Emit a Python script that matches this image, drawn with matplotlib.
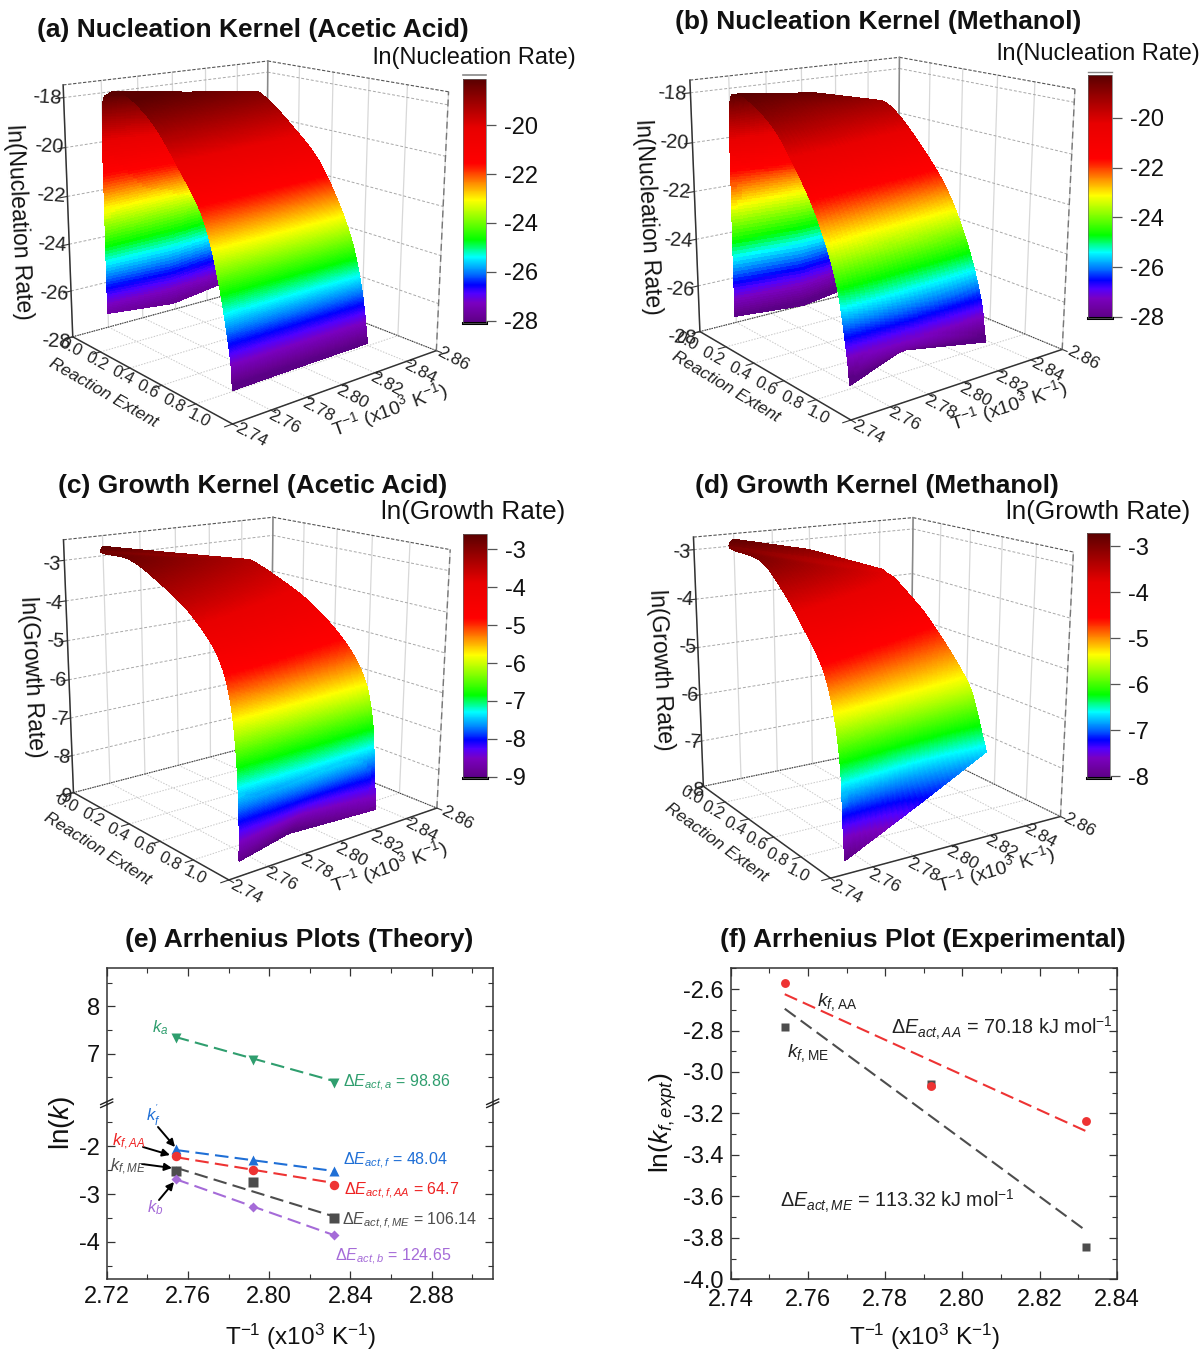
import numpy as np
import matplotlib
matplotlib.use('Agg')
import matplotlib.pyplot as plt
from matplotlib.cm import ScalarMappable
from matplotlib.colors import LinearSegmentedColormap, Normalize
from matplotlib.lines import Line2D
from matplotlib.ticker import FixedLocator
from mpl_toolkits.mplot3d.art3d import Poly3DCollection

plt.rcParams['font.family'] = ['Liberation Sans', 'DejaVu Sans']
plt.rcParams['mathtext.fontset'] = 'custom'
plt.rcParams['mathtext.rm'] = 'Liberation Sans'
plt.rcParams['mathtext.it'] = 'Liberation Sans:italic'
plt.rcParams['mathtext.bf'] = 'Liberation Sans:bold'

W, H = 1200, 1352

# inverse temperatures of the three runs
t_runs = [2.754, 2.792, 2.832]
# where the runs sit along the T axis of the 3D boxes
t_nucl = [2.764, 2.802, 2.844]
t_grow = [2.754, 2.792, 2.832]

# surface readings, one row per temperature
ext_a = [[-0.053, -0.053, -0.049, 0.000, 0.117, 0.290, 0.453, 0.586, 0.671, 0.738, 0.753],
         [-0.041, -0.062, -0.043, 0.030, 0.137, 0.308, 0.458, 0.581, 0.668, 0.732, 0.757],
         [-0.078, -0.070, -0.036, 0.060, 0.158, 0.326, 0.463, 0.576, 0.665, 0.726, 0.762]]
rate_a = [[-27.61, -23.18, -18.94, -18.08, -17.96, -18.81, -20.35, -21.88, -24.00, -26.79, -28.23],
          [-27.89, -23.03, -19.38, -18.39, -18.42, -19.36, -20.65, -22.15, -24.02, -26.41, -28.16],
          [-27.65, -22.89, -19.83, -18.70, -18.88, -19.91, -20.95, -22.43, -24.05, -26.03, -28.10]]
ext_b = [[-0.063, -0.062, -0.054, -0.001, 0.071, 0.253, 0.404, 0.537, 0.647, 0.705, 0.725],
         [-0.035, -0.081, -0.056, 0.057, 0.111, 0.288, 0.437, 0.566, 0.663, 0.706, 0.627],
         [-0.116, -0.101, -0.058, 0.027, 0.150, 0.323, 0.470, 0.594, 0.679, 0.707, 0.715]]
rate_b = [[-27.99, -22.69, -18.87, -18.31, -18.34, -19.18, -20.60, -22.26, -24.46, -26.93, -28.28],
          [-28.15, -22.90, -19.56, -18.50, -18.98, -20.05, -21.47, -23.30, -25.44, -27.36, -28.03],
          [-28.12, -23.11, -20.26, -19.27, -19.62, -20.92, -22.35, -24.33, -26.42, -27.79, -28.28]]
ext_c = [[0.086, 0.080, 0.265, 0.454, 0.632, 0.782, 0.854, 0.891, 0.906, 0.906],
         [0.091, 0.100, 0.212, 0.381, 0.571, 0.742, 0.834, 0.878, 0.896, 0.789],
         [0.096, 0.120, 0.159, 0.309, 0.510, 0.701, 0.815, 0.866, 0.886, 0.900]]
rate_c = [[-2.67, -2.82, -2.81, -3.17, -3.66, -4.38, -5.26, -6.56, -8.09, -8.99],
          [-3.04, -3.12, -3.11, -3.43, -3.90, -4.61, -5.43, -6.55, -7.88, -9.15],
          [-3.42, -3.41, -3.42, -3.68, -4.13, -4.84, -5.60, -6.53, -7.67, -8.85]]
ext_d = [[0.096, 0.078, 0.320, 0.485, 0.641, 0.765, 0.837, 0.876, 0.888, 0.900],
         [0.111, 0.115, 0.264, 0.409, 0.542, 0.678, 0.775, 0.819, 0.848, 0.900],
         [0.127, 0.152, 0.209, 0.332, 0.443, 0.591, 0.714, 0.761, 0.809, 0.835]]
rate_d = [[-2.78, -2.97, -3.02, -3.44, -4.03, -4.62, -5.39, -6.32, -7.25, -8.01],
          [-3.12, -3.35, -3.41, -3.76, -4.21, -4.77, -5.42, -6.08, -6.82, -7.24],
          [-3.69, -3.74, -3.80, -4.09, -4.39, -4.92, -5.45, -5.83, -6.38, -6.68]]

ext_ticks = [0.0, 0.2, 0.4, 0.6, 0.8, 1.0]
t_ticks = [2.74, 2.76, 2.78, 2.80, 2.82, 2.84, 2.86]

# panel e
ln_ka = [7.32, 6.86, 6.38]
ln_kf = [-2.06, -2.28, -2.51]
ln_kf_aa = [-2.21, -2.49, -2.82]
ln_kf_me = [-2.51, -2.75, -3.49]
ln_kb = [-2.69, -3.27, -3.86]
fit_ends = [2.754, 2.832]
fit_ka = [7.35, 6.42]
fit_kf = [-2.08, -2.52]
fit_kf_aa = [-2.23, -2.77]
fit_kf_me = [-2.45, -3.47]
fit_kb = [-2.69, -3.86]

# panel f
expt_aa = [-2.57, -3.07, -3.235]
expt_me = [-2.785, -3.06, -3.845]
fit_expt_aa = [-2.625, -3.285]
fit_expt_me = [-2.695, -3.765]

# rainbow used by all the colour bars
cmap_pos = [0.0, 0.025, 0.08, 0.12, 0.155, 0.20, 0.27, 0.34, 0.42, 0.504, 0.573, 0.634, 0.655, 0.80, 1.0]
cmap_col = ['#5a0085', '#680095', '#7a00c0', '#5000ff', '#0000ff', '#0070ff', '#00ffff', '#00ff00',
            '#7fff00', '#ffff00', '#ff8c00', '#ff2000', '#ff0000', '#e80000', '#5a0000']
rainbow = LinearSegmentedColormap.from_list('origin_rainbow', list(zip(cmap_pos, cmap_col)), N=512)

fig = plt.figure(figsize=(W / 100, H / 100), dpi=100)


def put(x, y, s, **kw):
    kw.setdefault('ha', 'center')
    kw.setdefault('va', 'center')
    return fig.text(x / W, 1 - y / H, s, **kw)


def px_axes(left, top, right, bottom, **kw):
    return fig.add_axes([left / W, 1 - bottom / H, (right - left) / W, (bottom - top) / H], **kw)


def fit_camera(ax, corners, zlim):
    # camera taken from six box corners as they sit on the page
    ax.apply_aspect()
    cube = [(0, 0, 0), (1, 0, 0), (1, 1, 0), (0, 0, 1), (0, 1, 1), (1, 1, 1)]
    rows = []
    for (u, v, w), (px, py) in zip(cube, corners):
        x, y = ax.transData.inverted().transform((px, H - py))
        rows.append([u, v, w, 1, 0, 0, 0, 0, -x * u, -x * v, -x * w, -x])
        rows.append([0, 0, 0, 0, u, v, w, 1, -y * u, -y * v, -y * w, -y])
    h = np.linalg.svd(np.array(rows))[2][-1].reshape(3, 4)
    if h[2] @ np.array([0.5, 0.5, 0.5, 1]) < 0:
        h = -h
    proj = np.array([h[0], h[1], [-1, 0, 0, 0], h[2]])
    dt = t_ticks[-1] - t_ticks[0]
    dz = zlim[1] - zlim[0]
    scale = np.array([[1, 0, 0, 0],
                      [0, 1 / dt, 0, -t_ticks[0] / dt],
                      [0, 0, 1 / dz, -zlim[0] / dz],
                      [0, 0, 0, 1]])
    M = proj @ scale
    ax.get_proj = lambda: M


def draw_box(ax, zlim, zticks):
    t0, t1 = t_ticks[0], t_ticks[-1]
    z0, z1 = zlim

    def seg(a, b, **kw):
        ax.plot([a[0], b[0]], [a[1], b[1]], [a[2], b[2]], clip_on=False, **kw)

    floor = dict(color='#c8c8c8', lw=0.7, ls=(0, (1.5, 1.5)), zorder=1)
    wall_h = dict(color='#a8a8a8', lw=0.7, ls=(0, (3, 2)), zorder=1)
    wall_v = dict(color='#d8d8d8', lw=0.9, zorder=1)
    for e in ext_ticks:
        seg((e, t0, z0), (e, t1, z0), **floor)
        seg((e, t1, z0), (e, t1, z1), **wall_v)
        seg((e, t0, z0), (e, t0 - 0.004, z0), color='#333333', lw=0.8, zorder=1)
    for t in t_ticks:
        seg((0, t, z0), (1, t, z0), **floor)
        seg((0, t, z0), (0, t, z1), **wall_v)
        seg((1, t, z0), (1.025, t, z0), color='#333333', lw=0.8, zorder=1)
    for z in zticks:
        seg((0, t0, z), (0, t1, z), **wall_h)
        seg((0, t1, z), (1, t1, z), **wall_h)
        seg((0, t0, z), (0, t0 - 0.004, z), color='#333333', lw=0.8, zorder=1)
    solid = dict(color='#333333', lw=1.1, zorder=1.5)
    top = dict(color='#555555', lw=0.8, ls=(0, (3, 1.5)), zorder=1.5)
    hidden = dict(color='#333333', lw=0.8, ls=(0, (1, 1.2)), zorder=1.5)
    seg((0, t0, z0), (0, t0, z1), **solid)
    seg((0, t0, z0), (1, t0, z0), **solid)
    seg((1, t0, z0), (1, t1, z0), **solid)
    seg((0, t0, z1), (0, t1, z1), **top)
    seg((0, t1, z1), (1, t1, z1), **top)
    seg((1, t1, z0), (1, t1, z1), color='#777777', lw=1.0, ls=(0, (5, 3)), zorder=1.5)
    seg((0, t1, z0), (0, t1, z1), color='#888888', lw=1.1, zorder=1.5)
    seg((0, t0, z0), (0, t1, z0), **hidden)
    seg((0, t1, z0), (1, t1, z0), **hidden)


def smooth_col(col, per_row=40):
    # Catmull-Rom through the readings of one run, drawing only
    p = np.concatenate([[col[0]], col, [col[-1]]])
    out = []
    for i in range(1, len(p) - 2):
        s = np.linspace(0, 1, per_row, endpoint=False)
        out.append(0.5 * (2 * p[i] + (p[i + 1] - p[i - 1]) * s
                          + (2 * p[i - 1] - 5 * p[i] + 4 * p[i + 1] - p[i + 2]) * s ** 2
                          + (3 * p[i] - p[i - 1] - 3 * p[i + 1] + p[i + 2]) * s ** 3))
    out.append(np.array([col[-1]]))
    return np.concatenate(out)


def draw_surface(ax, ext, rate, t_cols, norm):
    e = np.array([smooth_col(np.array(c)) for c in ext])
    z = np.array([smooth_col(np.array(c)) for c in rate])
    fine_t = np.linspace(t_cols[0], t_cols[-1], 31)
    X = np.array([np.interp(fine_t, t_cols, e[:, j]) for j in range(e.shape[1])])
    Z = np.array([np.interp(fine_t, t_cols, z[:, j]) for j in range(e.shape[1])])
    Y = np.tile(fine_t, (e.shape[1], 1))
    grid = np.stack([X, Y, Z], axis=-1)
    verts = np.stack([grid[:-1, :-1], grid[:-1, 1:], grid[1:, 1:], grid[1:, :-1]], axis=2).reshape(-1, 4, 3)
    cols = rainbow(norm(verts[:, :, 2].mean(axis=1)))
    poly = Poly3DCollection(verts, facecolors=cols, edgecolors=cols, linewidths=0.6, antialiased=False, zorder=2)
    ax.add_collection3d(poly, autolim=False)


def panel_3d(origin, corners, zlim, zticks, ext, rate, t_cols, cbar_box, cbar_lim, cbar_ticks):
    ax = px_axes(origin[0], origin[1], origin[0] + 480, origin[1] + 480, projection='3d', computed_zorder=False)
    ax.set_axis_off()
    fit_camera(ax, corners, zlim)
    norm = Normalize(*cbar_lim)
    draw_box(ax, zlim, zticks)
    draw_surface(ax, ext, rate, t_cols, norm)
    cax = px_axes(*cbar_box)
    cb = fig.colorbar(ScalarMappable(norm=norm, cmap=rainbow), cax=cax)
    cb.set_ticks(cbar_ticks)
    cb.set_ticklabels([str(t) for t in cbar_ticks])
    cb.ax.tick_params(labelsize=17, length=7, width=0.9, color='#555555', pad=6, labelcolor='#111111')
    cb.ax.minorticks_off()
    cb.outline.set_edgecolor('#666666')
    cb.outline.set_linewidth(0.5)
    cax.axhline(cbar_lim[0], color='black', lw=2.2, clip_on=False)


def labels_3d(z_ends, e_ends, t_ends, zticks, z_title, e_title, t_title, z_name):
    for (x, y), z in zip(np.linspace(z_ends[0], z_ends[1], len(zticks)), zticks):
        put(x, y, str(z), fontsize=14.5, rotation=-4, color='#222222')
    for (x, y), e in zip(np.linspace(e_ends[0], e_ends[1], len(ext_ticks)), ext_ticks):
        put(x, y, f'{e:.1f}', fontsize=12, rotation=-28, color='#222222')
    for (x, y), t in zip(np.linspace(t_ends[0], t_ends[1], len(t_ticks)), t_ticks):
        put(x, y, f'{t:.2f}', fontsize=12.5, rotation=-28, color='#222222')
    put(z_title[0], z_title[1], z_name, fontsize=16.5, rotation=-87, rotation_mode='anchor', color='#111111')
    put(e_title[0], e_title[1], 'Reaction Extent', fontsize=12.5, style='italic', rotation=e_title[2],
        rotation_mode='anchor', color='#222222')
    put(t_title[0], t_title[1], r'T$^{-1}$ (x10$^{3}$ K$^{-1}$)', fontsize=14, rotation=t_title[2],
        rotation_mode='anchor', color='#222222')


nucl = ['ln(Nucleation Rate)', 'ln(Growth Rate)']

panel_3d((0, 0), [(72.7, 336.7), (232.7, 424), (436.3, 350.7), (63.1, 85), (267.9, 61), (448.5, 91.7)],
         (-28, -17.5), [-18, -20, -22, -24, -26, -28], ext_a, rate_a, t_nucl,
         (462.7, 79.3, 485.7, 322.7), (-28.08, -18.12), [-20, -22, -24, -26, -28])
panel_3d((630, 0), [(700, 331.7), (850.7, 420), (1062.3, 349.3), (690, 80), (899.3, 57.3), (1075, 89.3)],
         (-28, -17.5), [-18, -20, -22, -24, -26, -28], ext_b, rate_b, t_nucl,
         (1087.7, 75, 1111.7, 318), (-28.05, -18.27), [-20, -22, -24, -26, -28])
panel_3d((0, 460), [(73.3, 792.3), (229.3, 880), (436.7, 808.3), (63.3, 540), (273.3, 517.3), (450, 549.3)],
         (-9, -2.5), [-3, -4, -5, -6, -7, -8, -9], ext_c, rate_c, t_grow,
         (462.7, 534, 486.7, 778), (-9.03, -2.6), [-3, -4, -5, -6, -7, -8, -9])
panel_3d((630, 460), [(703.2, 786), (830.9, 878.3), (1060.3, 816.7), (693.3, 537.3), (913.4, 517.7), (1073.2, 551.7)],
         (-8, -2.75), [-3, -4, -5, -6, -7, -8], ext_d, rate_d, t_grow,
         (1086.9, 533.3, 1110, 778), (-8.04, -2.72), [-3, -4, -5, -6, -7, -8])

labels_3d(((47, 98), (56, 342)), ((71, 347), (199, 418)), ((250.7, 435), (453.5, 359)),
          [-18, -20, -22, -24, -26, -28], (19, 222), (103, 393, -30), (390, 410, 20), nucl[0])
labels_3d(((671.7, 94), (681.7, 338)), ((686.7, 341.7), (818, 415.7)), ((868, 431.7), (1083, 358)),
          [-18, -20, -22, -24, -26, -28], (648, 217), (725.7, 387, -31), (1009, 406, 18), nucl[0])
labels_3d(((51.7, 564), (63, 796)), ((66.7, 803), (195, 875.7)), ((246, 891.7), (456.7, 818)),
          [-3, -4, -5, -6, -7, -8, -9], (31.7, 677), (97, 849, -32), (389, 867, 19), nucl[1])
labels_3d(((681, 551.7), (695.8, 790)), ((692, 795), (797.6, 873)), ((845.7, 891.7), (1078.8, 825)),
          [-3, -4, -5, -6, -7, -8], (660.7, 670), (716, 842, -36), (995.5, 870, 16), nucl[1])

for x, y, s in [(252.5, 29.5, '(a) Nucleation Kernel (Acetic Acid)'), (878, 21.5, '(b) Nucleation Kernel (Methanol)'),
                (253, 485.5, '(c) Growth Kernel (Acetic Acid)'), (876.5, 485.5, '(d) Growth Kernel (Methanol)'),
                (299.5, 939.5, '(e) Arrhenius Plots (Theory)'), (923, 939.5, '(f) Arrhenius Plot (Experimental)')]:
    put(x, y, s, fontsize=19, fontweight='bold', color='#111111')
for x, y, s, fs in [(474, 58, nucl[0], 17), (1098.5, 54, nucl[0], 17), (473.5, 512, nucl[1], 18.8), (1098, 512, nucl[1], 18.8)]:
    put(x, y, s, fontsize=fs, color='#111111')
fig.add_artist(Line2D([462.7 / W, 485.7 / W], [1 - 75 / H] * 2, color='#888888', lw=1.2))
fig.add_artist(Line2D([1087.7 / W, 1111.7 / W], [1 - 72 / H] * 2, color='#888888', lw=1.0))

# panel e, broken y axis
frame = '#333333'
dash = (0, (6.5, 3))


def style_2d(ax):
    for sp in ax.spines.values():
        sp.set_color(frame)
        sp.set_linewidth(1.1)
    ax.tick_params(which='major', direction='in', length=6, width=0.9, top=True, right=True, color=frame,
                   labelsize=17, pad=5, labelcolor='#111111')
    ax.tick_params(which='minor', direction='in', length=3.5, width=0.8, top=True, right=True, color=frame)


ax_up = px_axes(106.7, 968.3, 492.7, 1102.5)
ax_lo = px_axes(106.7, 1104, 492.7, 1279.3)
series = [(ln_ka, fit_ka, '#2f9e6e', 'v'), (ln_kf, fit_kf, '#1f6fd6', '^'), (ln_kf_aa, fit_kf_aa, '#ee3333', 'o'),
          (ln_kf_me, fit_kf_me, '#4d4d4d', 's'), (ln_kb, fit_kb, '#a56bd8', 'D')]
for ax in (ax_up, ax_lo):
    for pts, fit, col, mark in series:
        ax.plot(fit_ends, fit, color=col, lw=1.5, ls=dash, zorder=2)
        ax.plot(t_runs, pts, ls='none', marker=mark, color=col, ms=6.8 if mark != 'D' else 5.4, mec='none', zorder=3)
    ax.set_xlim(2.72, 2.91)
    ax.xaxis.set_major_locator(FixedLocator([2.72, 2.76, 2.80, 2.84, 2.88]))
    ax.xaxis.set_minor_locator(FixedLocator([2.74, 2.78, 2.82, 2.86, 2.90]))
    style_2d(ax)
ax_up.set_ylim(5.97, 8.8)
ax_lo.set_ylim(-4.78, -1.12)
ax_up.set_yticks([7, 8])
ax_up.yaxis.set_minor_locator(FixedLocator([6.5, 7.5, 8.5]))
ax_lo.set_yticks([-2, -3, -4])
ax_lo.yaxis.set_minor_locator(FixedLocator([-1.5, -2.5, -3.5, -4.5]))
ax_up.spines['bottom'].set_visible(False)
ax_lo.spines['top'].set_visible(False)
ax_up.tick_params(which='both', bottom=False, labelbottom=False)
ax_lo.tick_params(which='both', top=False)
ax_lo.set_xticklabels(['2.72', '2.76', '2.80', '2.84', '2.88'])
ax_lo.set_yticklabels(['-2', '-3', '-4'])
for x in (106.7, 492.7):
    for dy in (-1.5, 1.5):
        fig.add_artist(Line2D([(x - 6) / W, (x + 6) / W], [1 - (1106 + dy) / H, 1 - (1100.5 + dy) / H],
                              color='#222222', lw=1.0))

put(300, 1337, r'T$^{-1}$ (x10$^{3}$ K$^{-1}$)', fontsize=17.5, color='#111111')
put(62, 1123, r'ln($\mathit{k}$)', fontsize=20, rotation=90, color='#111111')

e_notes = [(343, 1083, r'$\mathit{\Delta E_{act,a}}$ = 98.86', '#2f9e6e'),
           (343, 1161, r'$\mathit{\Delta E_{act,f}}$ = 48.04', '#1f6fd6'),
           (344, 1191, r'$\mathit{\Delta E_{act,f,AA}}$ = 64.7', '#ee2222'),
           (342, 1221, r'$\mathit{\Delta E_{act,f,ME}}$ = 106.14', '#4d4d4d'),
           (335, 1257, r'$\mathit{\Delta E_{act,b}}$ = 124.65', '#a56bd8')]
for x, y, s, c in e_notes:
    put(x, y, s, fontsize=11.5, color=c, ha='left')
k_notes = [(160, 1028, r'$\mathit{k_a}$', '#2f9e6e'), (153, 1115, r"$\mathit{k_f^{'}}$", '#1f6fd6'),
           (129, 1142, r'$\mathit{k_{f,AA}}$', '#ee2222'), (128, 1167, r'$\mathit{k_{f,ME}}$', '#4d4d4d'),
           (155, 1208, r'$\mathit{k_b}$', '#a56bd8')]
for x, y, s, c in k_notes:
    put(x, y, s, fontsize=12, color=c)
for a, b in [((158, 1127), (175, 1147)), ((143, 1147), (170, 1155)), ((142, 1164), (172, 1168)), ((159, 1200), (174, 1182))]:
    ax_lo.annotate('', xy=(b[0], H - b[1]), xytext=(a[0], H - a[1]), xycoords='figure pixels',
                   textcoords='figure pixels', annotation_clip=False,
                   arrowprops=dict(arrowstyle='-|>', color='black', lw=1.4, mutation_scale=11, shrinkA=0, shrinkB=0))

# panel f
ax_f = px_axes(730.7, 968.3, 1116.7, 1279.3)
ax_f.plot(fit_ends, fit_expt_aa, color='#ee3333', lw=1.5, ls=dash, zorder=2)
ax_f.plot(fit_ends, fit_expt_me, color='#4d4d4d', lw=1.5, ls=dash, zorder=2)
ax_f.plot(t_runs, expt_me, ls='none', marker='s', color='#4d4d4d', ms=6, mec='none', zorder=3)
ax_f.plot(t_runs, expt_aa, ls='none', marker='o', color='#ee3333', ms=6.4, mec='none', zorder=4)
ax_f.set_xlim(2.74, 2.84)
ax_f.set_ylim(-4.0, -2.5)
ax_f.xaxis.set_major_locator(FixedLocator([2.74, 2.76, 2.78, 2.80, 2.82, 2.84]))
ax_f.xaxis.set_minor_locator(FixedLocator([2.75, 2.77, 2.79, 2.81, 2.83]))
ax_f.yaxis.set_major_locator(FixedLocator([-4.0, -3.8, -3.6, -3.4, -3.2, -3.0, -2.8, -2.6]))
ax_f.yaxis.set_minor_locator(FixedLocator([-3.9, -3.7, -3.5, -3.3, -3.1, -2.9, -2.7, -2.5]))
style_2d(ax_f)
ax_f.set_xticklabels(['2.74', '2.76', '2.78', '2.80', '2.82', '2.84'])
ax_f.set_yticklabels(['-4.0', '-3.8', '-3.6', '-3.4', '-3.2', '-3.0', '-2.8', '-2.6'])
ax_f.tick_params(axis='x', which='major', pad=7)

put(924, 1337, r'T$^{-1}$ (x10$^{3}$ K$^{-1}$)', fontsize=17.5, color='#111111')
put(663, 1123, r'ln($\mathit{k_{f,expt}}$)', fontsize=19, rotation=90, color='#111111')
put(837, 1002, r'$\mathit{k_{f,}}$$_{\mathrm{AA}}$', fontsize=14, color='#222222')
put(808, 1053, r'$\mathit{k_{f,}}$$_{\mathrm{ME}}$', fontsize=14, color='#222222')
put(891, 1028, r'$\mathit{\Delta E_{act,AA}}$ = 70.18 kJ mol$^{-1}$', fontsize=14.2, color='#222222', ha='left')
put(780, 1201, r'$\mathit{\Delta E_{act,ME}}$ = 113.32 kJ mol$^{-1}$', fontsize=14.2, color='#222222', ha='left')

fig.savefig('out.png', dpi=100)
